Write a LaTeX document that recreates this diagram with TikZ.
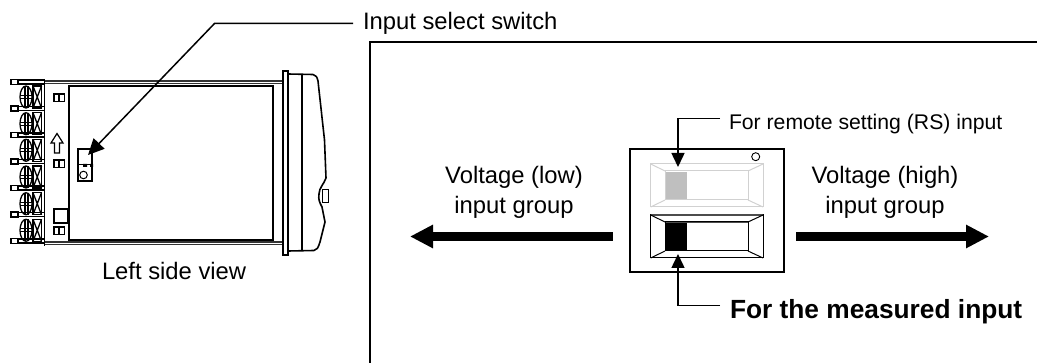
\documentclass[tikz,border=0pt]{standalone}
\usepackage{fontspec}
\setmainfont{Liberation Sans}
\usetikzlibrary{arrows.meta}
\tikzset{
  lbl/.style={inner sep=0pt,outer sep=0pt,font=\fontsize{23.8}{30}\selectfont,align=center},
  lblw/.style={inner sep=0pt,outer sep=0pt,anchor=base west,font=\fontsize{23.8}{30}\selectfont},
  lblsmall/.style={inner sep=0pt,outer sep=0pt,anchor=base west,font=\fontsize{21.2}{25}\selectfont},
  lblbold/.style={inner sep=0pt,outer sep=0pt,anchor=base west,font=\fontsize{26.3}{30}\selectfont\bfseries},
  pointer/.style={line width=1.5pt,-{Triangle[length=14pt,width=13pt]}},
  bigpointer/.style={line width=1.5pt,-{Triangle[length=16pt,width=15pt]}},
  bigarrow/.style={line width=9pt,-{Triangle[length=23pt,width=22pt]}},
  ln/.style={line width=1.5pt},
}
\definecolor{swgray}{gray}{.75}
\definecolor{swedge}{gray}{.82}
\begin{document}
\begin{tikzpicture}[x=1pt,y=-1pt]
\useasboundingbox (0,0) rectangle (1037,363);
% frame
\draw[ln] (370,363) -- (370,42) -- (1037,42);
% device body
\draw[line width=1.4pt,gray!40!black] (44.5,81) -- (283,81) (44.5,83.5) -- (283,83.5) (44.5,242) -- (283,242) (44.5,244.5) -- (283,244.5);
\draw[line width=1.6pt] (44.5,79) -- (44.5,246);
\draw[line width=2pt] (69,86) rectangle (272.7,240);
\draw[line width=1.1pt] (283,71) rectangle (288,255);
\draw[line width=1.6pt,line join=round] (288,74) -- (313,74.5) .. controls (316,75) and (317,77) .. (318,81) -- (324.5,140) -- (326,178)
 .. controls (324,184) and (319,188) .. (319,194) .. controls (318,200) and (320,203) .. (322,207)
 -- (325,222) -- (320,242) .. controls (318,248) and (317,250) .. (314,250.5) -- (288,251);
\draw[line width=1.2pt] (302,74) -- (302,251);
\draw[line width=1pt] (322,190) rectangle (328,203);
% terminals
\foreach \y in {85,111.7,138.3,165,191.7,218.3}{
  \begin{scope}[yshift=-\y pt]
  \draw[line width=1.4pt] (33,1) rectangle (41.5,23);
  \draw[line width=1.3pt] (33,1) -- (41.5,23) (33,23) -- (41.5,1);
  \draw[line width=1.3pt] (26,12) ellipse (6 and 11);
  \draw[line width=1.2pt] (20,10.5) -- (33,10.5) (20,13.5) -- (33,13.5) (25,1) -- (25,23) (28,1) -- (28,23);
  \end{scope}
}
\foreach \y in {82,108.5,135,161.5,188,214.5,241}{
  \draw[line width=1.1pt,fill=white] (11,\y-2.5) rectangle (18,\y+2.5);
  \draw[line width=1.5pt] (18,\y-2) -- (44.5,\y-2);
  \draw[line width=1.1pt] (18,\y+2) -- (44.5,\y+2);
}
% left face details
\foreach \y in {94,160,227}{
  \draw[line width=1.8pt] (54,\y) rectangle (64.5,\y+7.5);
  \draw[line width=1.6pt] (59.2,\y) -- (59.2,\y+7.5);
}
\draw[line width=1.8pt] (54,209) rectangle (68,223);
\draw[line width=1.2pt] (54.5,153) -- (54.5,143) -- (51,143) -- (57,133.5) -- (63,143) -- (59.5,143) -- (59.5,153) -- cycle;
\draw[line width=1.4pt] (78,149) rectangle (92,181);
\draw[line width=1pt] (78,165) -- (92,165);
\fill (83,164) rectangle (87,167) (90,164) rectangle (93,167);
\draw[line width=1pt] (83.5,175) circle (3.8);
% pointer to input select switch
\coordinate (selecttip) at (88,155);
\coordinate (selectbend) at (214.7,23.3);
\coordinate (selectstart) at (353,23.3);
\node[lblw] (selectlbl) at (363,30) {Input select switch};
\draw[bigpointer] (selectstart) -- (selectbend) -- (selecttip);
\node[lblw] (leftview) at (102,279.5) {Left side view};
% switch panel
\draw[line width=1.5pt] (630,149) rectangle (784,272);
\draw[line width=.9pt] (755.7,156.7) circle (4);
% top (gray) switch
\begin{scope}[swedge,line width=1pt]
\draw (650.7,164) rectangle (763,207);
\draw (650.7,164) -- (665,171) (763,164) -- (748,171) (650.7,207) -- (665,200) (763,207) -- (748,200);
\draw (665,171) rectangle (748,200);
\end{scope}
\fill[swgray] (666,172) rectangle (687,199);
% bottom (black) switch
\draw[line width=1pt] (650.7,215) rectangle (763,258);
\draw[line width=2pt,gray!60!black] (650.7,215) -- (763,215) (665,222) -- (748,222);
\draw[line width=1pt] (650.7,215) -- (665,222) (763,215) -- (748,222) (650.7,258) -- (665,251) (763,258) -- (748,251);
\draw[line width=1pt] (665,222) rectangle (748,251);
\fill (666,223) rectangle (687,250);
% labels and pointers on switch
\node[lblsmall] (rslbl) at (729,130) {For remote setting (RS) input};
\node[lblbold] (measlbl) at (730,318.5) {For the measured input};
\coordinate (rstip) at (678,167);
\coordinate (meastip) at (678,254);
\coordinate (rsstart) at (720,118.3);
\coordinate (measstart) at (720,305.5);
\draw[pointer] (rsstart) -- (rsstart -| rstip) -- (rstip);
\draw[pointer] (measstart) -- (measstart -| meastip) -- (meastip);
% group labels and arrows
\node[lbl] (lowlbl) at (514,192.5) {Voltage (low)\\input group};
\node[lbl] (highlbl) at (885,192.5) {Voltage (high)\\input group};
\coordinate (ls) at (612.7,236.5);
\coordinate (lt) at (410,236.5);
\coordinate (rs) at (796,236.5);
\coordinate (rt) at (989,236.5);
\draw[bigarrow] (ls) -- (lt);
\draw[bigarrow] (rs) -- (rt);
\end{tikzpicture}
\end{document}
